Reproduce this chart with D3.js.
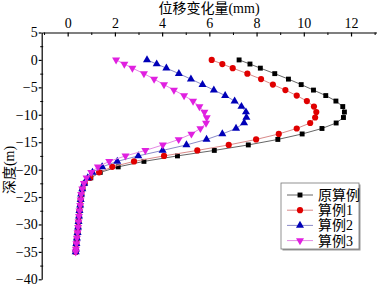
<!DOCTYPE html>
<html>
<head>
<meta charset="utf-8">
<script src="https://cdn.jsdelivr.net/npm/d3@7"></script>
<style>
  body { margin: 0; background: #fff; }
  svg { display: block; }
  text { font-family: "Liberation Serif", "Noto Sans CJK SC", serif; }
</style>
</head>
<body>
<svg id="svg1" width="377" height="286"></svg>
<script>
// depth of each point (m)
const depth = [0, -0.75, -1.5, -2.5, -3.5, -4.5, -5.5, -6.5, -7.5, -8.5, -9.5, -10.5, -11.5,
  -12.5, -13.5, -14.5, -15.5, -16.5, -17.5, -18.5, -19.5, -20.5, -21.5, -22.5, -23.5, -24.5,
  -25.5, -26.5, -27.5, -28.5, -29.5, -30.5, -31.5, -32.5, -33.5, -34.5, -35];

// displacement (mm)
const orig = [7.26, 7.72, 8.16, 8.77, 9.35, 9.89, 10.41, 10.93, 11.36, 11.65, 11.72, 11.68, 11.37,
  10.77, 9.93, 8.9, 7.65, 6.21, 4.65, 3.23, 2.14, 1.38, 0.98, 0.72, 0.63, 0.58,
  0.55, 0.53, 0.50, 0.48, 0.46, 0.44, 0.42, 0.39, 0.37, 0.35, 0.34];
const case1 = [6.1, 6.55, 6.99, 7.61, 8.19, 8.69, 9.22, 9.7, 10.13, 10.43, 10.53, 10.48, 10.27,
  9.7, 8.94, 7.98, 6.82, 5.49, 4.08, 2.81, 1.89, 1.33, 0.95, 0.72, 0.63, 0.58,
  0.55, 0.53, 0.50, 0.48, 0.46, 0.44, 0.42, 0.39, 0.37, 0.35, 0.34];
const case2 = [3.36, 3.77, 4.18, 4.71, 5.22, 5.71, 6.19, 6.67, 7.07, 7.36, 7.55, 7.57, 7.47,
  7.13, 6.55, 5.88, 5.03, 4.02, 2.99, 2.1, 1.46, 1.05, 0.85, 0.7, 0.62, 0.57,
  0.55, 0.53, 0.50, 0.48, 0.46, 0.44, 0.42, 0.39, 0.37, 0.35, 0.34];
const case3 = [2.05, 2.4, 2.74, 3.23, 3.66, 4.08, 4.5, 4.93, 5.31, 5.58, 5.79, 5.89, 5.86,
  5.62, 5.24, 4.7, 4.03, 3.29, 2.45, 1.76, 1.28, 1.0, 0.8, 0.69, 0.62, 0.57,
  0.55, 0.53, 0.50, 0.48, 0.46, 0.44, 0.42, 0.39, 0.37, 0.35, 0.34];

const seriesNames = ["原算例", "算例1", "算例2", "算例3"];
const xTicks = [0, 2, 4, 6, 8, 10, 12];
const yTicks = [5, 0, -5, -10, -15, -20, -25, -30, -35, -40];

const svg = d3.select("#svg1");

const x = d3.scaleLinear().domain([-1.1, 13.1]).range([41.7, 377]);
const y = d3.scaleLinear().domain([5, -40]).range([32.5, 279.3]);

const series = [
  { name: seriesNames[0], vals: orig, line: "#666", fill: "#000", sym: d3.symbolSquare, size: 24, rot: 0 },
  { name: seriesNames[1], vals: case1, line: "#d98a8a", fill: "#e00000", sym: d3.symbolCircle, size: 30, rot: 0 },
  { name: seriesNames[2], vals: case2, line: "#8a8ac8", fill: "#0000b8", sym: d3.symbolTriangle, size: 28, rot: 0 },
  { name: seriesNames[3], vals: case3, line: "#e48ae4", fill: "#e020e0", sym: d3.symbolTriangle, size: 28, rot: 180 }
];

// top axis
svg.append("g")
  .attr("transform", `translate(0,${y(5)})`)
  .call(d3.axisTop(x).tickValues(xTicks).tickSizeInner(-4).tickSizeOuter(0).tickPadding(5))
  .call(g => g.selectAll("text").attr("font-size", 14).attr("fill", "#000").attr("font-family", "Liberation Serif"))
  .call(g => g.selectAll("line,path").attr("stroke", "#000").attr("stroke-width", 1.2));
svg.append("g")
  .attr("transform", `translate(0,${y(5)})`)
  .call(d3.axisTop(x).tickValues([-1, 1, 3, 5, 7, 9, 11, 13]).tickSize(-2.5).tickFormat(""))
  .call(g => g.select(".domain").remove())
  .call(g => g.selectAll("line").attr("stroke", "#000"));

// left axis
svg.append("g")
  .attr("transform", `translate(${x(-1.1)},0)`)
  .call(d3.axisLeft(y).tickValues(yTicks).tickSizeInner(3).tickSizeOuter(0).tickPadding(1))
  .call(g => g.selectAll("text").attr("font-size", 14).attr("fill", "#000").attr("font-family", "Liberation Serif"))
  .call(g => g.selectAll("line,path").attr("stroke", "#000").attr("stroke-width", 1.2));
svg.append("g")
  .attr("transform", `translate(${x(-1.1) + 1.5},0)`)
  .call(d3.axisLeft(y).tickValues([2.5, -2.5, -7.5, -12.5, -17.5, -22.5, -27.5, -32.5, -37.5]).tickSize(3).tickFormat(""))
  .call(g => g.select(".domain").remove())
  .call(g => g.selectAll("line").attr("stroke", "#000"));

// axis titles
svg.append("text")
  .attr("x", 209).attr("y", 13)
  .attr("text-anchor", "middle")
  .attr("font-size", 14)
  .text("位移变化量(mm)");
svg.append("text")
  .attr("transform", "translate(14,170) rotate(-90)")
  .attr("text-anchor", "middle")
  .attr("font-size", 14)
  .text("深度(m)");

// lines and markers
series.forEach(s => {
  const pts = s.vals.map((v, i) => ({ v: v, d: depth[i] }));
  svg.append("path")
    .datum(pts)
    .attr("fill", "none")
    .attr("stroke", s.line)
    .attr("stroke-width", 1)
    .attr("d", d3.line().x(d => x(d.v)).y(d => y(d.d)));
  svg.append("g")
    .selectAll("path")
    .data(pts)
    .join("path")
    .attr("transform", d => `translate(${x(d.v)},${y(d.d)}) rotate(${s.rot})`)
    .attr("d", d3.symbol().type(s.sym).size(s.size))
    .attr("fill", s.fill);
});

// legend
const lg = svg.append("g").attr("transform", "translate(281,183)");
lg.append("rect").attr("x", 1.5).attr("y", 1.5).attr("width", 78).attr("height", 66).attr("fill", "#999");
lg.append("rect").attr("width", 78).attr("height", 66).attr("fill", "#fff").attr("stroke", "#777").attr("stroke-width", 0.8);
series.forEach((s, i) => {
  const ry = 12 + i * 15.2;
  lg.append("line").attr("x1", 6).attr("x2", 32).attr("y1", ry).attr("y2", ry)
    .attr("stroke", s.line).attr("stroke-width", 1);
  lg.append("path")
    .attr("transform", `translate(19,${ry}) rotate(${s.rot})`)
    .attr("d", d3.symbol().type(s.sym).size(s.size))
    .attr("fill", s.fill);
  lg.append("text")
    .attr("x", 37).attr("y", ry + 5)
    .attr("font-size", 14)
    .text(s.name);
});
</script>
</body>
</html>
